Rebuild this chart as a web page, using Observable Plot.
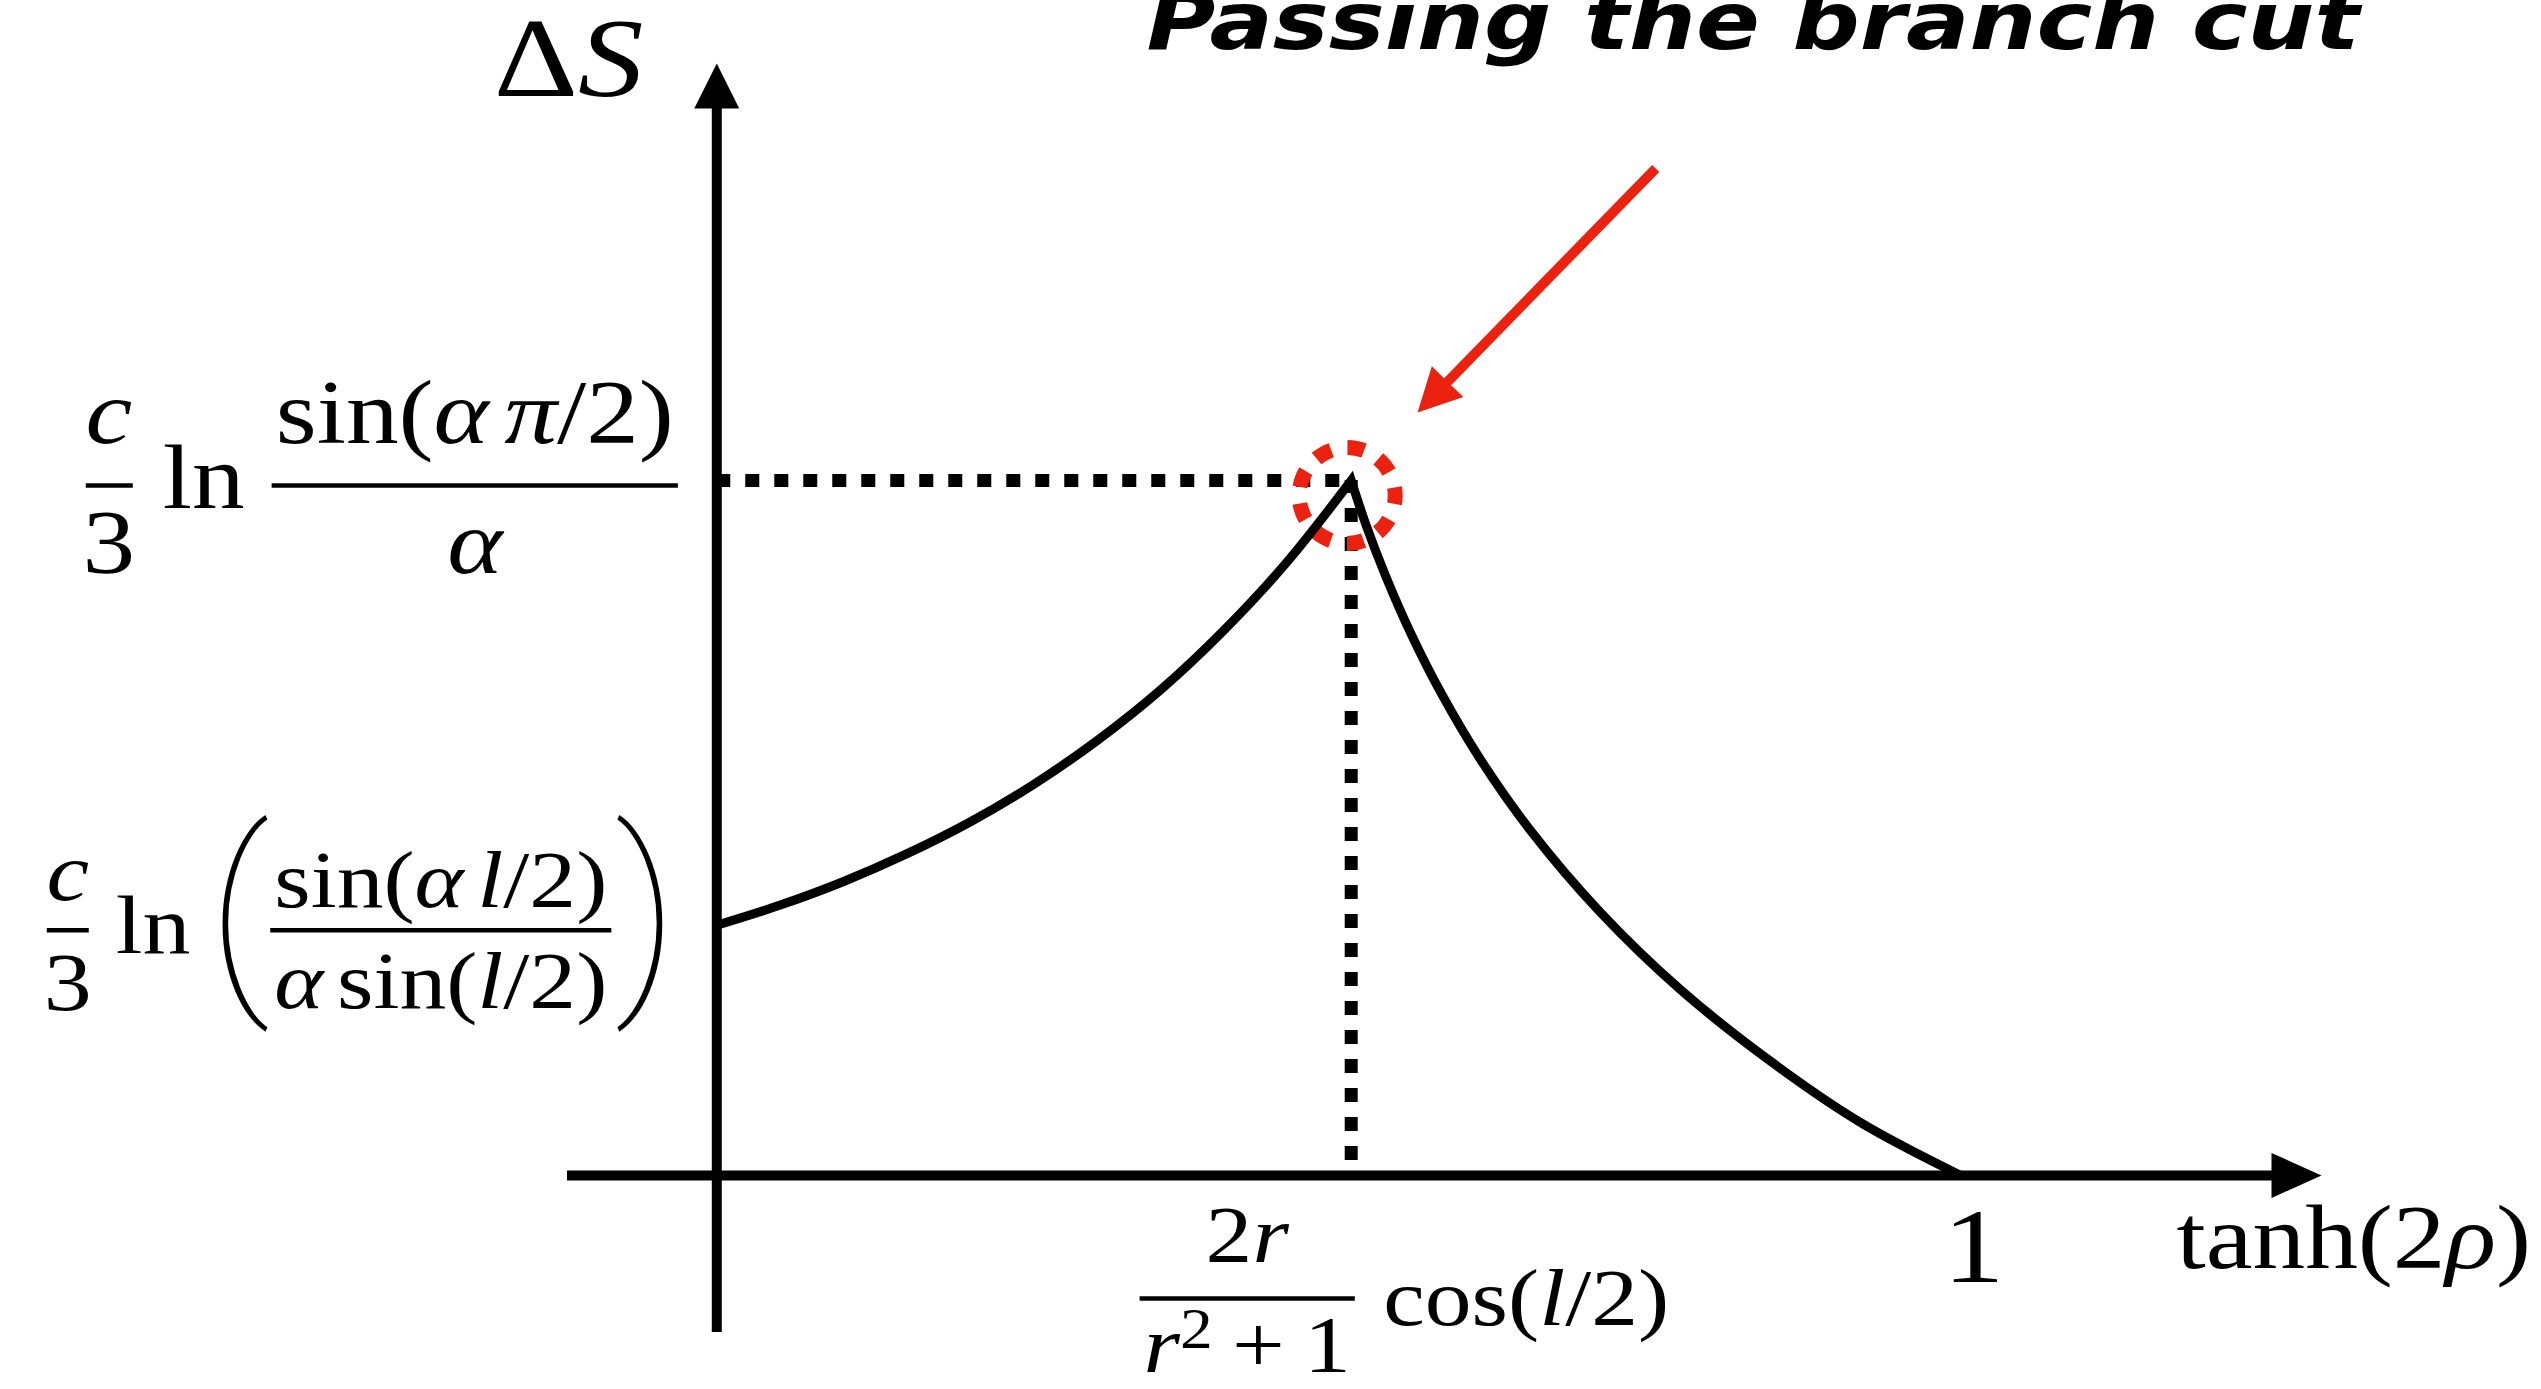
<!DOCTYPE html>
<html>
<head>
<meta charset="utf-8">
<script src="https://cdn.jsdelivr.net/npm/d3@7"></script>
<script src="https://cdn.jsdelivr.net/npm/@observablehq/plot@0.6"></script>
<style>
  html, body { margin: 0; padding: 0; background: #fff; overflow: hidden; }
  #chart svg { display: block; }
</style>
</head>
<body>
<div id="chart"></div>
<script>
// ΔS against tanh(2ρ): the entanglement curve rises to a cusp where it passes the branch cut,
// then falls to zero at tanh(2ρ) = 1.

// Rising branch (from the y-axis up to the cusp)
const tanh2rhoRising = [0, 0.051, 0.102, 0.153, 0.204, 0.255, 0.306, 0.357, 0.408, 0.459, 0.51];
const deltaSRising   = [0.36, 0.389, 0.423, 0.463, 0.509, 0.563, 0.626, 0.699, 0.785, 0.884, 1.0];
// Falling branch (from the cusp down to tanh(2ρ) = 1)
const tanh2rhoFalling = [0.51, 0.5217, 0.5378, 0.5579, 0.582, 0.6141, 0.6543, 0.7106, 0.7749, 0.8473, 0.9196, 1.0];
const deltaSFalling   = [1.0, 0.937, 0.862, 0.78, 0.695, 0.598, 0.496, 0.378, 0.267, 0.164, 0.076, 0.0];

// Axis extents (axis lines run across the whole frame and end in arrowheads)
const xDomain = [-0.12, 1.29];
const yDomain = [-0.226, 1.6];

// Text (segments between * are set in math italic, ^ marks a superscript)
const titleText   = "Passing the branch cut";
const yAxisTitle  = "Δ*S*";
const xAxisTitle  = "tanh(2*ρ*)";
const xEndTick    = "1";
const cuspXTick   = {num: "2*r*", den: "*r*^2 + 1", tail: "cos(*l*/2)"};
const cuspYTick   = {coef: ["*c*", "3"], fn: "ln", num: "sin(*α*\u2009*π*/2)", den: "*α*"};
const startYTick  = {coef: ["*c*", "3"], fn: "ln", num: "sin(*α*\u2009*l*/2)", den: "*α*\u2009sin(*l*/2)", open: "(", close: ")"};

const RED = "#ec2210";
const SERIF = "'Liberation Serif', 'Times New Roman', serif";
const STRETCH = 1.17; // widen the serif glyphs toward Computer Modern proportions

const curvePoints = [
  ...tanh2rhoRising.map((x, i) => ({x, y: deltaSRising[i]})),
  ...tanh2rhoFalling.slice(1).map((x, i) => ({x, y: deltaSFalling[i + 1]}))
];
const cusp = curvePoints[d3.maxIndex(curvePoints, d => d.y)];
const start = curvePoints[0];

// Catmull–Rom on each side of the crest, meeting in a sharp corner at the crest.
function curveCusp(context) {
  let pts;
  return {
    lineStart() { pts = []; },
    point(x, y) { pts.push([+x, +y]); },
    lineEnd() {
      const k = d3.minIndex(pts, p => p[1]);
      let started = false;
      const ctx = {
        moveTo(x, y) { if (!started) context.moveTo(x, y); started = true; },
        lineTo(x, y) { context.lineTo(x, y); },
        bezierCurveTo(a, b, c, d, e, f) { context.bezierCurveTo(a, b, c, d, e, f); },
        closePath() {}
      };
      for (const run of [pts.slice(0, k + 1), pts.slice(k)]) {
        if (run.length < 2) continue;
        const c = d3.curveCatmullRom.alpha(0.5)(ctx);
        c.lineStart();
        for (const [x, y] of run) c.point(x, y);
        c.lineEnd();
      }
    },
    areaStart() {}, areaEnd() {}
  };
}

// --- tiny math typesetting: split "*italic*" runs, gaps and superscripts ---
const ctx2d = document.createElement("canvas").getContext("2d");
function textWidth(t, size, italic) {
  ctx2d.font = `${italic ? "italic " : ""}${size}px ${SERIF}`;
  return ctx2d.measureText(t).width;
}
function parse(src) {
  const out = [];
  let italic = false, buf = "";
  const flush = () => { if (buf) out.push({t: buf, italic}); buf = ""; };
  for (let k = 0; k < src.length; k++) {
    const ch = src[k];
    if (ch === "*") { flush(); italic = !italic; }
    else if (ch === "^") { flush(); out.push({t: src[++k], italic: false, sup: true}); }
    else if (ch === " " || ch === "\u2009") { flush(); out.push({gap: ch === " " ? 0.24 : 0.17}); }
    else buf += ch;
  }
  flush();
  return out;
}
function layout(src, size) {
  let x = 0;
  const placed = [];
  for (const tok of parse(src)) {
    if (tok.gap) { x += tok.gap * size; continue; }
    const s = tok.sup ? size * 0.7 : size;
    placed.push({...tok, size: s, x, rise: tok.sup ? size * 0.3 : 0});
    x += STRETCH * textWidth(tok.t, s, tok.italic);
  }
  return {placed, width: x};
}
function mathRow(anchor, src, {size, dx = 0, dy = 0, align = "start"}) {
  const {placed, width} = layout(src, size);
  const shift = align === "middle" ? -width / 2 : align === "end" ? -width : 0;
  return placed.map(p => Plot.text([anchor], {
    x: "x", y: "y", text: () => p.t,
    dx: dx + shift + p.x, dy: dy - p.rise,
    textAnchor: "start", lineAnchor: "bottom",
    fontFamily: SERIF, fontSize: p.size, fontStyle: p.italic ? "italic" : "normal",
    fill: "black", ariaLabel: () => "math"
  }));
}
const rowWidth = (src, size) => layout(src, size).width;

const barShape = {draw(c, l) { c.moveTo(0, 0); c.lineTo(0, -l); }};
function hbar(anchor, {dx, dy, length, thickness = 4.5}) {
  return Plot.vector([anchor], {
    x: "x", y: "y", length, rotate: 90, anchor: "start", shape: barShape,
    dx, dy, stroke: "black", strokeWidth: thickness, strokeLinecap: "butt"
  });
}
// fraction centred at cx (pixel offset from anchor); bar drawn on the math axis at dy
function fraction(anchor, num, den, {size, cx, dy, up, down, pad = 8}) {
  const len = Math.max(rowWidth(num, size), rowWidth(den, size)) + pad;
  return [
    ...mathRow(anchor, num, {size, dx: cx, dy: dy - up, align: "middle"}),
    hbar(anchor, {dx: cx - len / 2, dy, length: len}),
    ...mathRow(anchor, den, {size, dx: cx, dy: dy + down, align: "middle"})
  ];
}
function bigDelim(anchor, ch, {dx, dy, size}) {
  return Plot.text([anchor], {
    x: "x", y: "y", text: () => ch, dx, dy, textAnchor: "middle", lineAnchor: "middle",
    fontFamily: "Roboto, 'Open Sans', sans-serif", fontWeight: 100, fontSize: size, fill: "black"
  });
}

// arrowheads
const headShape = {draw(c, l) { const w = 22.5; c.moveTo(-w, 0); c.lineTo(0, -l); c.lineTo(w, 0); c.closePath(); }};
const calloutShape = {
  draw(c, l) {
    const gap = 95, head = 43, wing = 22, half = 5;
    const tip = -(l - gap), base = tip + head;
    c.moveTo(-half, 0); c.lineTo(-half, base); c.lineTo(-wing, base); c.lineTo(0, tip);
    c.lineTo(wing, base); c.lineTo(half, base); c.lineTo(half, 0); c.closePath();
  }
};

const yCuspAnchor = {x: 0, y: cusp.y};
const yStartAnchor = {x: 0, y: start.y};
const xCuspAnchor = {x: cusp.x, y: 0};

const svg = Plot.plot({
  width: 2541,
  height: 1389,
  marginLeft: 567,
  marginRight: 220,
  marginTop: 63,
  marginBottom: 57,
  x: {domain: xDomain, axis: null},
  y: {domain: yDomain, axis: null},
  style: {background: "#fff", overflow: "visible"},
  marks: [
    // guide lines to the cusp
    Plot.ruleY([cusp], {y: "y", x1: () => 0, x2: "x", stroke: "black", strokeWidth: 13, strokeDasharray: "14,15"}),
    Plot.ruleX([cusp], {x: "x", y1: () => 0, y2: "y", stroke: "black", strokeWidth: 13, strokeDasharray: "14,15", strokeDashoffset: 14}),
    // dashed ring around the cusp
    Plot.dot([cusp], {x: "x", y: "y", r: 48, dx: -4, dy: 15, fill: "none", stroke: RED, strokeWidth: 15,
      strokeDasharray: "17,16.51", strokeDashoffset: 8.5}),
    // ΔS curve
    Plot.line(curvePoints, {x: "x", y: "y", curve: curveCusp, stroke: "black", strokeWidth: 9,
      strokeLinejoin: "miter", strokeMiterlimit: 10, strokeLinecap: "butt"}),
    // axes
    Plot.ruleY([0], {stroke: "black", strokeWidth: 10, insetRight: 40}),
    Plot.ruleX([0], {stroke: "black", strokeWidth: 10, insetTop: 40}),
    Plot.vector([{x: xDomain[1], y: 0}], {x: "x", y: "y", anchor: "end", length: 50, rotate: 90, shape: headShape, fill: "black", stroke: "none"}),
    Plot.vector([{x: 0, y: yDomain[1]}], {x: "x", y: "y", anchor: "end", length: 45, rotate: 0, shape: headShape, fill: "black", stroke: "none"}),
    // callout arrow
    Plot.vector([cusp], {x: "x", y: "y", anchor: "end", length: 436, rotate: 224.3, shape: calloutShape, fill: RED, stroke: "none"}),

    // axis titles
    ...mathRow({x: 0, y: yDomain[1]}, yAxisTitle, {size: 112, dx: -223, dy: 32}),
    ...mathRow({x: xDomain[1], y: 0}, xAxisTitle, {size: 90, dx: -145, dy: 93}),

    // x ticks
    ...mathRow({x: 1, y: 0}, xEndTick, {size: 105, dx: 13, dy: 107, align: "middle"}),
    ...fraction(xCuspAnchor, cuspXTick.num, cuspXTick.den, {size: 80, cx: -104, dy: 123, up: 36, down: 74}),
    ...mathRow(xCuspAnchor, cuspXTick.tail, {size: 80, dx: 32, dy: 150}),

    // y tick at the cusp
    ...mathRow(yCuspAnchor, cuspYTick.coef[0], {size: 90, dx: -608, dy: -37, align: "middle"}),
    hbar(yCuspAnchor, {dx: -631, dy: 5, length: 47}),
    ...mathRow(yCuspAnchor, cuspYTick.coef[1], {size: 90, dx: -608, dy: 93, align: "middle"}),
    ...mathRow(yCuspAnchor, cuspYTick.fn, {size: 90, dx: -554, dy: 28}),
    ...fraction(yCuspAnchor, cuspYTick.num, cuspYTick.den, {size: 90, cx: -242, dy: 5, up: 42, down: 88}),

    // y tick at the start of the curve
    ...mathRow(yStartAnchor, startYTick.coef[0], {size: 82, dx: -649, dy: -25, align: "middle"}),
    hbar(yStartAnchor, {dx: -670, dy: 5, length: 42}),
    ...mathRow(yStartAnchor, startYTick.coef[1], {size: 82, dx: -649, dy: 85, align: "middle"}),
    ...mathRow(yStartAnchor, startYTick.fn, {size: 82, dx: -601, dy: 28}),
    bigDelim(yStartAnchor, startYTick.open, {dx: -478, dy: -10, size: 212}),
    ...fraction(yStartAnchor, startYTick.num, startYTick.den, {size: 80, cx: -276, dy: 5, up: 23, down: 78}),
    bigDelim(yStartAnchor, startYTick.close, {dx: -70, dy: -10, size: 212}),

    // title
    Plot.text([titleText], {frameAnchor: "top-left", text: d => d, dx: 579, dy: -15,
      textAnchor: "start", lineAnchor: "bottom", fontFamily: "'DejaVu Sans', sans-serif",
      fontWeight: "bold", fontStyle: "italic", fontSize: 80, fill: "black", ariaLabel: () => "title"})
  ]
});

document.getElementById("chart").append(svg);

// widen the math glyphs
d3.select(svg).selectAll('text[aria-label="math"]').each(function () {
  const w = this.getComputedTextLength();
  this.setAttribute("textLength", w * STRETCH);
  this.setAttribute("lengthAdjust", "spacingAndGlyphs");
});

// stretch the title across its line
d3.select(svg).selectAll('text[aria-label="title"]')
  .attr("textLength", 1213)
  .attr("lengthAdjust", "spacingAndGlyphs");
</script>
</body>
</html>
